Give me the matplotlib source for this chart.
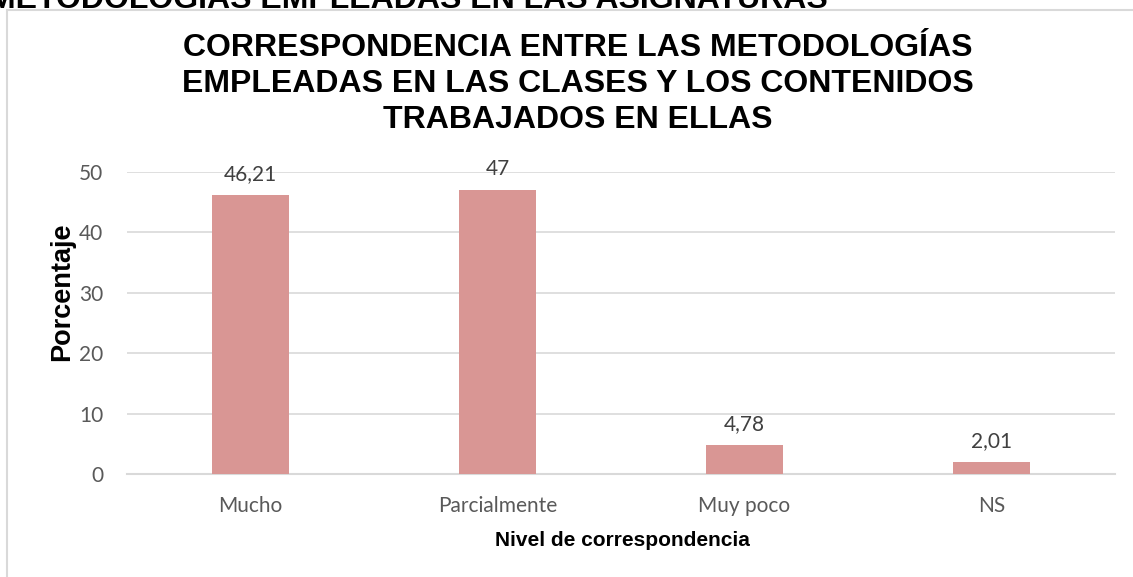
import matplotlib
matplotlib.use("Agg")
import matplotlib.pyplot as plt
from matplotlib.patches import Rectangle

categories = ["Mucho", "Parcialmente", "Muy poco", "NS"]
values = [46.21, 47, 4.78, 2.01]
value_labels = ["46,21", "47", "4,78", "2,01"]
yticks = [0, 10, 20, 30, 40, 50]

W, H = 1133, 577
fig = plt.figure(figsize=(W / 100, H / 100), dpi=100)

def fx(px):
    return px / W

def fy(py):
    return 1 - py / H

# caption of the previous section, cut by the page edge
fig.text(fx(828), fy(8), "METODOLOGÍAS EMPLEADAS EN LAS ASIGNATURAS",
         ha="right", va="baseline", fontsize=23, fontweight="bold",
         family="Liberation Sans", color="black")

# chart frame
frame = Rectangle((fx(7), fy(H + 20)), 1.2, fy(10) - fy(H + 20),
                  transform=fig.transFigure, fill=False,
                  edgecolor="#D9D9D9", linewidth=1.5, clip_on=False)
fig.patches.append(frame)

ax = fig.add_axes([fx(127), fy(474), fx(1115) - fx(127), fy(172) - fy(474)])
x = range(len(categories))
bars = ax.bar(x, values, width=0.315, color="#D99694", zorder=3)
ax.set_xlim(-0.5, len(categories) - 0.5)
ax.set_ylim(0, 50)
ax.set_yticks(yticks)
ax.set_xticks(list(x))
ax.set_xticklabels(categories)
ax.grid(axis="y", color="#D9D9D9", linewidth=1.2, zorder=0)
for s in ["top", "right", "left"]:
    ax.spines[s].set_visible(False)
ax.spines["bottom"].set_color("#D9D9D9")
ax.spines["bottom"].set_linewidth(1.5)
ax.tick_params(axis="both", length=0, labelsize=15, labelcolor="#595959")
ax.tick_params(axis="x", pad=16)
ax.tick_params(axis="y", pad=17)
for lbl in ax.get_xticklabels() + ax.get_yticklabels():
    lbl.set_family("Lato")

for b, v, t in zip(bars, values, value_labels):
    ax.annotate(t, (b.get_x() + b.get_width() / 2, v), xytext=(0, 8),
                textcoords="offset points", ha="center", va="bottom",
                fontsize=15, color="#404040", family="Lato")

fig.text(fx(62), fy(292), "Porcentaje", rotation=90, ha="center",
         va="center", fontsize=19.5, fontweight="bold",
         family="Liberation Sans", color="black")

fig.text(fx(622), fy(541), "Nivel de correspondencia", ha="center",
         va="center", fontsize=15, fontweight="bold",
         family="Liberation Sans", color="black")

fig.text(fx(578), fy(84),
         "CORRESPONDENCIA ENTRE LAS METODOLOGÍAS\n"
         "EMPLEADAS EN LAS CLASES Y LOS CONTENIDOS\n"
         "TRABAJADOS EN ELLAS",
         ha="center", va="center", fontsize=23, fontweight="bold",
         family="Liberation Sans", color="black", linespacing=1.25)

fig.savefig("out.png", dpi=100)
